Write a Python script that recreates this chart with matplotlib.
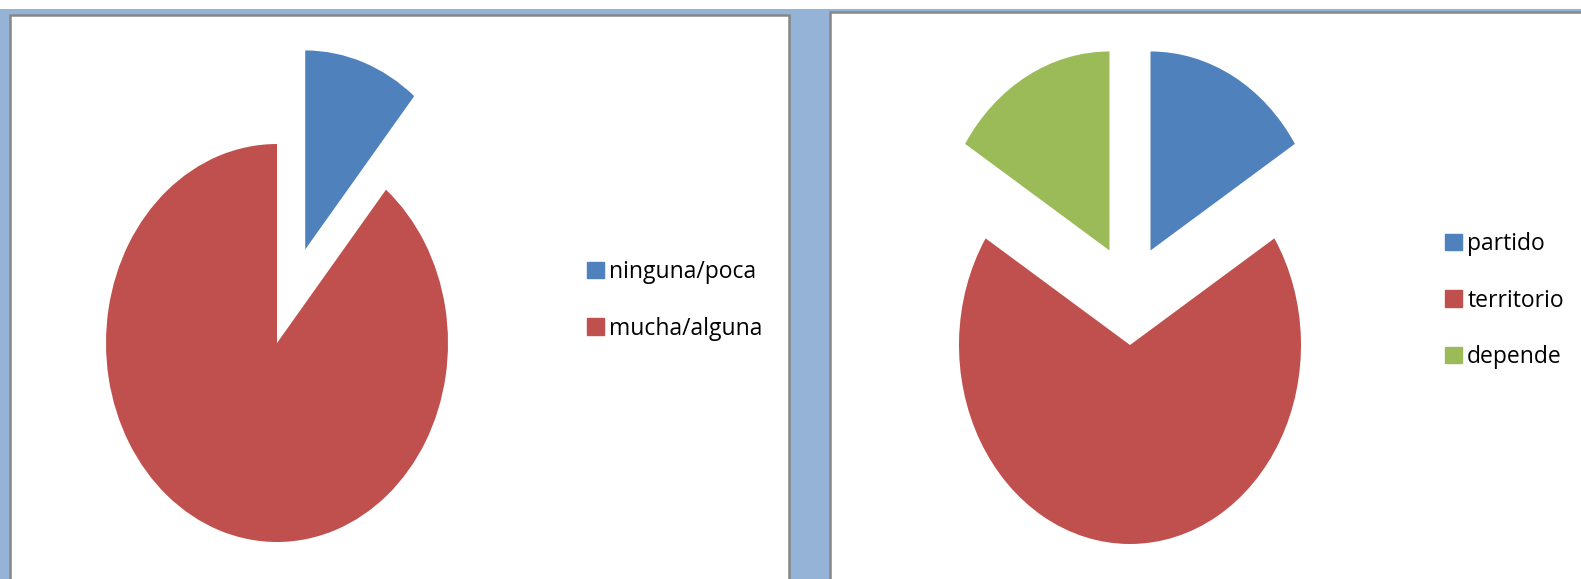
import matplotlib.pyplot as plt
from matplotlib.patches import Rectangle, Patch

# data
left_labels = ["ninguna/poca", "mucha/alguna"]
left_values = [11, 89]
right_labels = ["partido", "territorio", "depende"]
right_values = [16, 68, 16]

blue = "#4F81BD"
red = "#C0504D"
green = "#9BBB59"
bg_blue = "#95B3D7"
border = "#868686"

W, H = 1581, 579
fig = plt.figure(figsize=(W / 100, H / 100), dpi=100)
fig.patch.set_facecolor("white")


def px_rect(x0, y0, x1, y1, **kw):
    # rectangle given in pixels from the top-left corner
    r = Rectangle((x0 / W, 1 - y1 / H), (x1 - x0) / W, (y1 - y0) / H,
                  transform=fig.transFigure, **kw)
    fig.patches.append(r)


# window background and the two chart panels
px_rect(0, 9, W, H + 5, facecolor=bg_blue, edgecolor="none", zorder=-3)
px_rect(10, 15, 789, H + 5, facecolor="white", edgecolor=border, lw=1.8, zorder=-2)
px_rect(830, 12, W + 5, H + 5, facecolor="white", edgecolor=border, lw=1.8, zorder=-2)

# pie scale in pixels per unit radius (the pies are stretched vertically)
rx, ry = 171, 199
xlo, xhi = -1.6, 1.6
ylo, yhi = -1.05, 1.55


def pie_axes(cx, cy):
    left = cx + xlo * rx
    bottom = H - (cy - ylo * ry)
    ax = fig.add_axes([left / W, bottom / H, (xhi - xlo) * rx / W, (yhi - ylo) * ry / H])
    ax.patch.set_visible(False)
    return ax


def finish(ax):
    ax.set_xlim(xlo, xhi)
    ax.set_ylim(ylo, yhi)
    ax.set_aspect("auto")
    ax.axis("off")


# left pie
ax1 = pie_axes(277, 343)
w1, _ = ax1.pie(left_values, colors=[blue, red], startangle=90, counterclock=False,
                radius=1, frame=True)
finish(ax1)
w1[0].set_center((0.165, 0.47))

# right pie
ax2 = pie_axes(1130, 345)
w2, _ = ax2.pie(right_values, colors=[blue, red, green], startangle=90, counterclock=False,
                radius=1, frame=True)
finish(ax2)
w2[0].set_center((0.12, 0.475))
w2[2].set_center((-0.12, 0.475))

font = ["Open Sans", "DejaVu Sans"]
leg_kw = dict(frameon=False, handlelength=0.72, handleheight=0.72,
              handletextpad=0.25, labelspacing=1.42, borderpad=0, borderaxespad=0,
              loc="upper left", prop={"family": font, "size": 16.5})

fig.legend(handles=[Patch(color=c, label=l) for c, l in zip([blue, red], left_labels)],
           bbox_to_anchor=(587 / W, 1 - 260 / H), **leg_kw)
fig.legend(handles=[Patch(color=c, label=l) for c, l in zip([blue, red, green], right_labels)],
           bbox_to_anchor=(1445 / W, 1 - 232 / H), **leg_kw)

fig.savefig("out.png", dpi=100)
